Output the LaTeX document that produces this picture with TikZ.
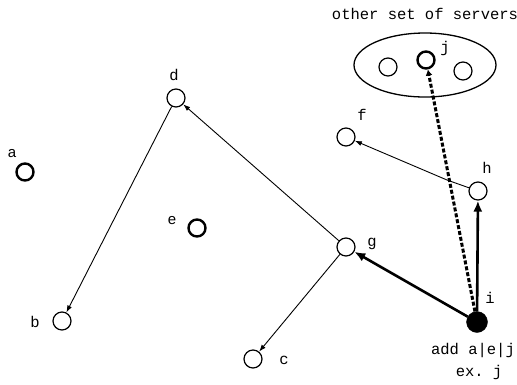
\documentclass[tikz,border=0pt]{standalone}
\usepackage{fontspec}
\setmonofont{Liberation Mono}
\newfontfamily\lsans{Liberation Sans}
\usetikzlibrary{arrows.meta,shapes.geometric}
\begin{document}
\begin{tikzpicture}[x=1pt,y=-1pt,
  srv/.style={circle,draw,line width=1.2pt,minimum size=18pt,inner sep=0pt},
  thk/.style={srv,line width=2.4pt,minimum size=17pt},
  blk/.style={circle,fill=black,draw,minimum size=21pt,inner sep=0pt},
  lbl/.style={font=\ttfamily\fontsize{15.5}{16}\selectfont,inner sep=0pt},
  slbl/.style={font=\lsans\fontsize{15}{16}\selectfont,inner sep=0pt},
  thin/.style={line width=0.9pt,-{Latex[length=7pt,width=5pt]}},
  bold/.style={line width=2.6pt,-{Latex[length=11pt,width=9pt]}},
  dsh/.style={line width=3pt,dash pattern=on 4pt off 2pt,-{Latex[length=6pt,width=7pt]}}]
\useasboundingbox (0,0) rectangle (517,384);
% ellipse
\node[ellipse,draw,line width=1.3pt,minimum width=142pt,minimum height=64pt] (grp) at (425,65) {};
\node[lbl] (t1) at (425,14) {other set of servers};
\node[srv] (j1) at (388,67) {};
\node[thk] (j) at (426,60) {};
\node[srv] (j2) at (463,71) {};
\node[lbl] (jl) at (445,48) {j};
% nodes
\node[thk] (a) at (25,172) {};
\node[slbl] (al) at (12,154) {a};
\node[srv] (d) at (176,98) {};
\node[lbl] (dl) at (174,75) {d};
\node[thk] (e) at (197,228) {};
\node[slbl] (el) at (172,221) {e};
\node[srv] (b) at (62,321) {};
\node[lbl] (bl) at (35,322) {b};
\node[srv] (c) at (253,359) {};
\node[lbl] (cl) at (284,360) {c};
\node[srv] (g) at (346,247) {};
\node[lbl] (gl) at (372,244) {g};
\node[srv] (f) at (346,137) {};
\node[lbl] (fl) at (362,115) {f};
\node[srv] (h) at (478,191) {};
\node[lbl] (hl) at (487,168) {h};
\node[blk] (i) at (477,322) {};
\node[lbl] (il) at (490,298) {i};
\node[lbl] (t2) at (473,350) {add a|e|j};
\node[lbl] (t3) at (479,372) {ex. j};
\coordinate (k) at (447,180);
% connectors
\draw[dsh] (i) -- (j);
\draw[thin] (d) -- (b);
\draw[thin] (g) -- (d);
\draw[thin] (g) -- (c);
\draw[thin] (h) -- (k) -- (f);
\draw[bold] (i) -- (g);
\draw[bold] (i) -- (h);
\end{tikzpicture}
\end{document}
